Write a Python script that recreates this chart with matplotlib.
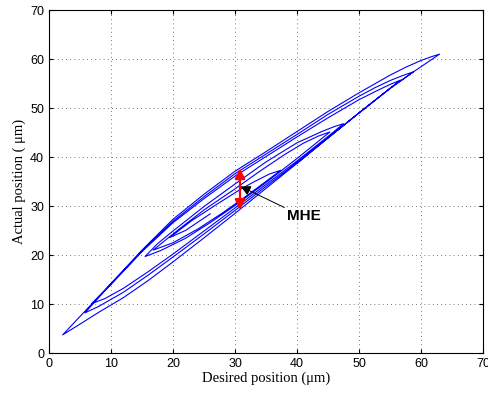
import matplotlib
matplotlib.use("Agg")
import matplotlib.pyplot as plt

# hysteresis trajectory, read branch by branch (desired, actual) in um
rise_start = [(40, 38.7), (45, 43.9), (50, 49.0), (55, 54.0), (58.8, 57.4), (63, 61.0)]
fall_63 = [(63, 61.0), (61.5, 60.4), (60, 59.7), (57.5, 58.3), (55, 56.7), (50, 53.1), (45, 49.3),
           (40, 45.2), (35, 41.1), (30, 37.1), (25, 32.4), (20, 27.3), (15, 21.0), (10, 14.2),
           (6, 8.8), (2.2, 3.7)]
rise_2 = [(2.2, 3.7), (5, 5.9), (8, 8.3), (12, 11.3), (16, 14.8), (20, 18.6), (25, 23.5),
          (30, 28.5), (35, 33.6), (40, 38.7), (45, 43.9), (50, 49.0), (55, 54.0), (58.8, 57.4)]
fall_59 = [(58.8, 57.4), (57, 56.6), (55, 55.6), (52.5, 54.1), (50, 52.4), (45, 48.7), (40, 44.6),
           (35, 40.6), (30, 36.6), (25, 31.9), (20, 26.9), (15, 20.8), (10, 14.1), (5.8, 8.2)]
rise_6 = [(5.8, 8.2), (8, 9.5), (12, 12.4), (16, 15.9), (20, 19.6), (25, 24.3), (30, 29.1),
          (35, 34.0), (40, 38.9), (45, 43.9), (50, 49.0), (55, 54.0), (56.7, 55.7)]
fall_57 = [(56.7, 55.7), (55, 54.8), (53, 53.6), (50, 51.7), (45, 48.0), (40, 44.1), (35, 40.1),
           (30, 36.1), (25, 31.5), (20, 26.6), (15, 20.7), (10, 14.0), (6.9, 10.1)]
rise_7 = [(6.9, 10.1), (9, 11.1), (12, 13.2), (16, 16.6), (20, 20.2), (25, 24.9), (30, 29.6),
          (35, 34.4), (40, 39.2), (45, 44.2), (47.5, 46.8)]
fall_48 = [(47.5, 46.8), (46, 46.2), (44, 45.2), (40, 42.9), (35, 39.0), (30, 34.5), (25, 29.9),
           (20, 24.9), (17.5, 22.3), (15.5, 19.7)]
rise_16 = [(15.5, 19.7), (18, 20.9), (22, 23.4), (26, 26.6), (30, 30.1), (35, 34.8), (40, 39.7),
           (45.3, 45.1)]
fall_45 = [(45.3, 45.1), (43.5, 44.3), (41, 42.8), (38, 40.5), (34, 37.1), (30, 33.5), (25, 29.2),
           (21, 25.3), (16.8, 21.0)]
rise_17 = [(16.8, 21.0), (20, 22.5), (24, 25.3), (28, 28.6), (32, 32.2), (37.4, 37.3)]
fall_37 = [(37.4, 37.3), (35.5, 36.5), (33, 34.9), (31, 33.5), (27, 30.3), (23, 27.0), (19.5, 23.6)]
rise_20 = [(19.5, 23.6), (22, 25.0), (26, 28.4)]

branches = [rise_start, fall_63, rise_2, fall_59, rise_6, fall_57, rise_7,
            fall_48, rise_16, fall_45, rise_17, fall_37, rise_20]

# max hysteresis error marker
mhe_x = 30.8
mhe_low, mhe_high = 29.2, 37.7
mhe_point = (30.9, 34.0)
mhe_text = (38.4, 28.0)

path = list(branches[0])
for b in branches[1:]:
    path += b[1:]
xs = [p[0] for p in path]
ys = [p[1] for p in path]

fig = plt.figure(figsize=(4.88, 3.94), dpi=100)
ax = fig.add_axes([0.1004, 0.104, 0.8894, 0.8706])

ax.plot(xs, ys, color="b", lw=0.8)

ax.annotate("", xy=(mhe_x, mhe_low), xytext=(mhe_x, mhe_high),
            arrowprops=dict(arrowstyle="<|-|>", color="red", lw=1.6,
                            mutation_scale=15, shrinkA=0, shrinkB=0))
ax.annotate("MHE", xy=mhe_point, xytext=mhe_text, fontsize=11, fontweight="bold",
            family="Liberation Sans", ha="left", va="center",
            arrowprops=dict(arrowstyle="-|>", color="black", lw=0.7,
                            mutation_scale=15, shrinkA=0, shrinkB=0, relpos=(0, 1)))

ax.set_xlim(0, 70)
ax.set_ylim(0, 70)
ax.set_xticks(range(0, 71, 10))
ax.set_yticks(range(0, 71, 10))
ax.grid(True, color="0.3", linestyle=(0, (1, 4)), lw=0.6)
ax.tick_params(direction="in", top=True, right=True, length=3, labelsize=9)
for lab in ax.get_xticklabels() + ax.get_yticklabels():
    lab.set_family("Liberation Sans")
for s in ax.spines.values():
    s.set_linewidth(0.8)

ax.set_xlabel("Desired position (\u03bcm)", family="Liberation Serif", fontsize=10.5, labelpad=1)
ax.set_ylabel("Actual position ( \u03bcm)", family="Liberation Serif", fontsize=10.5, labelpad=3)

fig.savefig("out.png", dpi=100)
